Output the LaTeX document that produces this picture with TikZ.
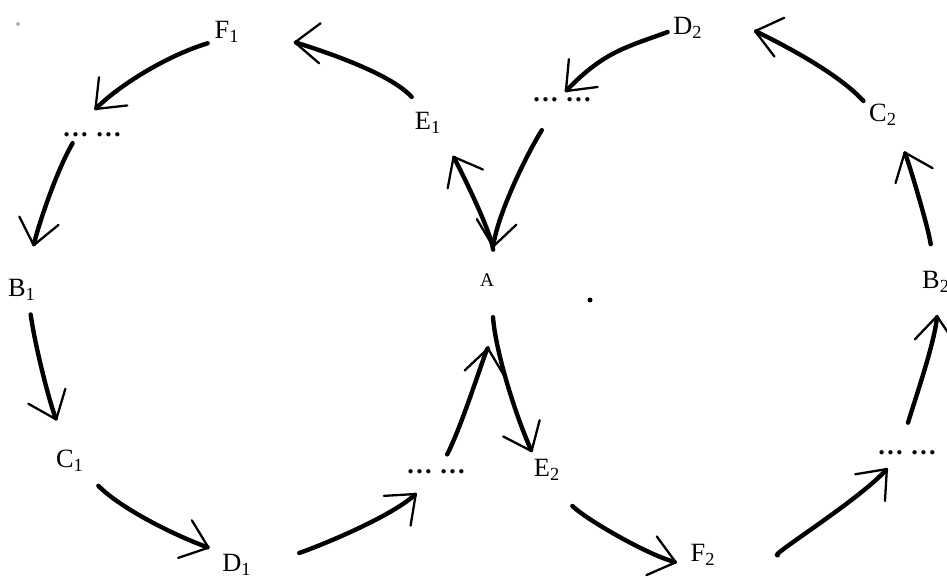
\documentclass[tikz,border=0pt]{standalone}
\usepackage{fontspec}
\setmainfont{Liberation Serif}
\usetikzlibrary{arrows.meta}
\begin{document}
\begin{tikzpicture}[line join=round, line cap=round,
		>={Straight Barb[length=5mm,width=8mm,line width=1.3pt,round]},
		lab/.style={circle,inner sep=0pt,minimum size=6.4mm,font=\fontsize{15}{18}\selectfont},
		dots/.style={lab,font=\fontsize{15}{18}\selectfont\bfseries},
		arr/.style={->,line width=2.5pt}]
		\useasboundingbox (0,0) rectangle (18.94,11.54);
		% left ring
		\node[lab] (f1) at (4.54,10.90) {F\textsubscript{1}};
		\node[dots] (dL1) at (1.84,8.84) {\makebox[0pt]{… …}};
		\node[lab] (b1) at (0.44,5.74) {B\textsubscript{1}};
		\node[lab] (c1) at (1.40,2.32) {C\textsubscript{1}};
		\node[lab] (d1) at (4.74,0.24) {D\textsubscript{1}};
		\node[dots] (dL2) at (8.72,2.10) {\makebox[0pt]{… …}};
		\node[lab] (e1) at (8.56,9.08) {E\textsubscript{1}};
		\node[lab,font=\fontsize{11}{13}\selectfont] (a) at (9.74,5.94) {A};
		% right ring
		\node[lab] (e2) at (10.94,2.14) {E\textsubscript{2}};
		\node[lab] (f2) at (14.06,0.44) {F\textsubscript{2}};
		\node[dots] (dR2) at (18.14,2.48) {\makebox[0pt]{… …}};
		\node[lab] (b2) at (18.72,5.90) {B\textsubscript{2}};
		\node[lab] (c2) at (17.66,9.24) {C\textsubscript{2}};
		\node[lab] (d2) at (13.76,10.98) {D\textsubscript{2}};
		\node[dots] (dR1) at (11.24,9.54) {\makebox[0pt]{… …}};
		\draw[arr,shorten <=2.8mm,shorten >=10.5mm] (e1.114) to[out=132,in=358,distance=10.5mm] (f1.329);
		\draw[arr,shorten <=1.2mm,shorten >=3.2mm] (f1.215) to[out=197,in=45,distance=10mm] (dL1.122);
		\draw[arr,shorten <=1.3mm,shorten >=5.5mm] (dL1.189) to[out=240,in=78,distance=8.5mm] (b1.71);
		\draw[arr,shorten <=1.7mm,shorten >=5.0mm] (b1.295) to[out=278,in=112,distance=8.5mm] (c1.103);
		\draw[arr,shorten <=4.0mm,shorten >=2.9mm] (c1.323) to[out=315,in=160,distance=10.5mm] (d1.139);
		\draw[arr,shorten <=9.1mm,shorten >=2.5mm] (d1.1) to[out=15,in=222,distance=10.5mm] (dL2.232);
		\draw[arr,shorten <=0.9mm,shorten >=10.8mm] (dL2.56) to[out=63,in=262,distance=8.5mm] (a.302);
		\draw[arr,shorten <=3.3mm,shorten >=5.0mm] (a.59) to[out=98,in=298,distance=7.5mm] (e1.321);
		\draw[arr,shorten <=4.0mm,shorten >=3.3mm] (dR1.234) to[out=238,in=82,distance=10mm] (a.77);
		\draw[arr,shorten <=4.3mm,shorten >=1.3mm] (a.286) to[out=274,in=114,distance=10.5mm] (e2.136);
		\draw[arr,shorten <=0.5mm,shorten >=-1.6mm] (d2.190) to[out=200,in=46,distance=9.5mm] (dR1.58);
		\draw[arr,shorten <=1.3mm,shorten >=10.4mm] (c2.149) to[out=132,in=346,distance=10.5mm] (d2.32);
		\draw[arr,shorten <=4.1mm,shorten >=5.0mm] (b2.98) to[out=98,in=292,distance=7.5mm] (c2.312);
		\draw[arr,shorten <=3.0mm,shorten >=3.1mm] (dR2.102) to[out=73,in=265,distance=8.5mm] (b2.278);
		\draw[arr,shorten <=12.7mm,shorten >=1.7mm] (f2.317) to[out=10,in=228,distance=10.5mm] (dR2.213);
		\draw[arr,shorten <=5.6mm,shorten >=2.9mm] (e2.289) to[out=315,in=165,distance=9.2mm] (f2.223);
		\fill (11.80,5.54) circle (0.05);
		\fill[black!30] (0.36,11.06) circle (0.04);
\end{tikzpicture}
\end{document}
